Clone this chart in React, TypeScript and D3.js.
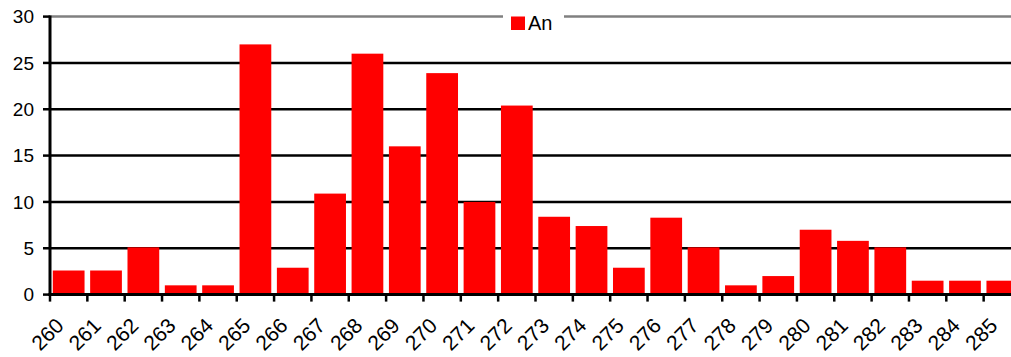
import React from "react";
import * as d3 from "d3";

const categories = [
  "260", "261", "262", "263", "264", "265", "266", "267", "268", "269",
  "270", "271", "272", "273", "274", "275", "276", "277", "278", "279",
  "280", "281", "282", "283", "284", "285",
];
const anValues = [
  2.6, 2.6, 5.1, 1.0, 1.0, 27.0, 2.9, 10.9, 26.0, 16.0,
  23.9, 10.0, 20.4, 8.4, 7.4, 2.9, 8.3, 5.1, 1.0, 2.0,
  7.0, 5.8, 5.1, 1.5, 1.5, 1.5,
];
const yTicks = [0, 5, 10, 15, 20, 25, 30];
const seriesName = "An";

const W = 1011;
const H = 357;
const left = 50;
const right = 1021;
const top = 16.6;
const bottom = 294.6;
const font = "'Liberation Sans', Arial, sans-serif";

export default function App() {
  const x = d3
    .scaleBand<string>()
    .domain(categories)
    .range([left, right])
    .paddingInner(0.15)
    .paddingOuter(0.075);
  const y = d3.scaleLinear().domain([0, 30]).range([bottom, top]);
  const step = x.step();
  const bandStart = (c: string) => (x(c) as number) - step * 0.075;

  return (
    <svg
      width={W}
      height={H}
      style={{ position: "absolute", left: 0, top: 0, background: "#fff" }}
    >
      {/* horizontal gridlines */}
      {yTicks.slice(1).map((t) => (
        <line
          key={t}
          x1={left}
          x2={W}
          y1={y(t)}
          y2={y(t)}
          stroke={t === 30 ? "#808080" : "#000"}
          strokeWidth={2.5}
        />
      ))}
      {/* legend */}
      <rect x={503} y={8} width={61} height={30} fill="#fff" />
      <rect x={511} y={16.5} width={14} height={13.5} fill="#ff0000" />
      <text x={528} y={29.5} fontFamily={font} fontSize={20} fill="#000">
        {seriesName}
      </text>
      {/* bars */}
      {categories.map((c, i) => (
        <rect
          key={c}
          x={x(c)}
          y={y(anValues[i])}
          width={x.bandwidth()}
          height={y(0) - y(anValues[i])}
          fill="#ff0000"
        />
      ))}
      {/* y axis */}
      <line x1={left} x2={left} y1={top - 1} y2={bottom + 1.5} stroke="#000" strokeWidth={3} />
      {yTicks.map((t) => (
        <g key={t}>
          <line x1={left - 7} x2={left} y1={y(t)} y2={y(t)} stroke="#000" strokeWidth={2.5} />
          <text
            x={34}
            y={y(t)}
            dy="0.36em"
            textAnchor="end"
            fontFamily={font}
            fontSize={19}
            fill="#000"
          >
            {t}
          </text>
        </g>
      ))}
      {/* x axis */}
      <line x1={left - 1.5} x2={W} y1={bottom} y2={bottom} stroke="#000" strokeWidth={3} />
      {categories.map((c) => (
        <line
          key={c}
          x1={bandStart(c)}
          x2={bandStart(c)}
          y1={bottom}
          y2={bottom + 7}
          stroke="#000"
          strokeWidth={2.5}
        />
      ))}
      {categories.map((c) => {
        const cx = (x(c) as number) + x.bandwidth() / 2 - 9;
        const ty = bottom + 27;
        return (
          <text
            key={c}
            x={cx}
            y={ty}
            dy="0.36em"
            textAnchor="end"
            transform={`rotate(-45 ${cx} ${ty})`}
            fontFamily={font}
            fontSize={21}
            fill="#000"
          >
            {c}
          </text>
        );
      })}
    </svg>
  );
}
